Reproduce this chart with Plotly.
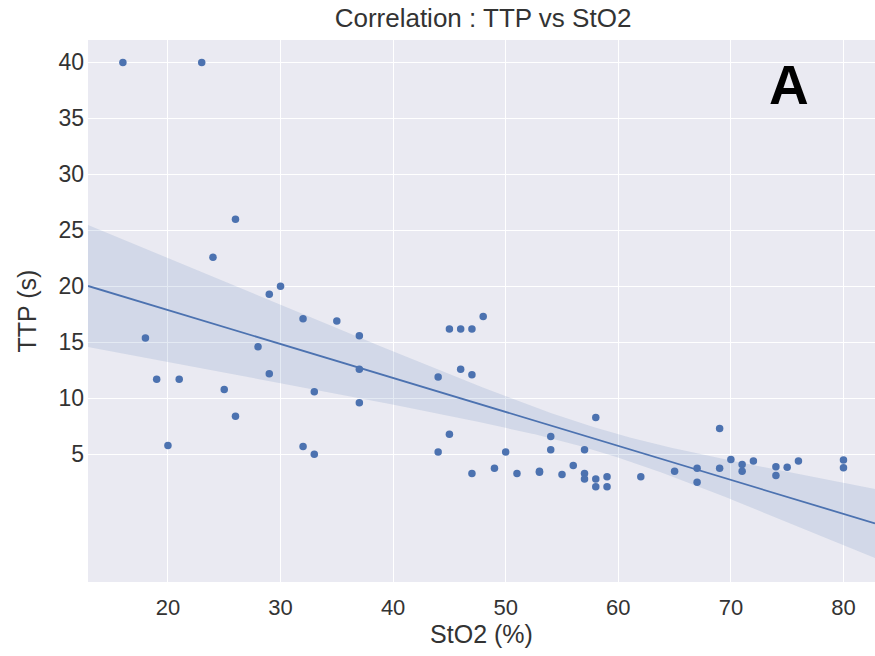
import numpy as np
import plotly.graph_objects as go

sto2 = [16, 23, 26, 24, 18, 19, 21, 20, 25, 26, 28, 29, 30, 29, 32, 32, 33, 33, 35, 37, 37, 37,
        48, 45, 46, 47, 44, 46, 47, 45, 44, 47, 49, 50, 51, 53, 53, 54, 54, 55, 56, 57, 57, 57,
        58, 58, 58, 59, 59, 62, 65, 67, 67, 69, 69, 70, 71, 71, 72, 74, 74, 75, 76, 80, 80]
ttp = [40, 40, 26, 22.6, 15.4, 11.7, 11.7, 5.8, 10.8, 8.4, 14.6, 19.3, 20, 12.2, 17.1, 5.7, 10.6, 5.0, 16.9, 15.6, 12.6, 9.6,
       17.3, 16.2, 16.2, 16.2, 11.9, 12.6, 12.1, 6.8, 5.2, 3.3, 3.75, 5.2, 3.3, 3.4, 3.5, 6.6, 5.4, 3.2, 4.0, 5.4, 3.3, 2.8,
       8.3, 2.8, 2.1, 3.0, 2.1, 3.0, 3.5, 3.75, 2.5, 7.3, 3.75, 4.55, 4.1, 3.5, 4.4, 3.9, 3.1, 3.85, 4.4, 4.5, 3.8]

x_range = [12.9, 82.8]
y_range = [-6.4, 42.0]
x_ticks = [20, 30, 40, 50, 60, 70, 80]
y_ticks = [5, 10, 15, 20, 25, 30, 35, 40]

# Linear fit with heteroscedasticity-robust (HC3) 95% confidence band
x = np.array(sto2, dtype=float)
y = np.array(ttp, dtype=float)
n = len(x)
X = np.column_stack([np.ones(n), x])
XtX_inv = np.linalg.inv(X.T @ X)
beta = XtX_inv @ X.T @ y
resid = y - X @ beta
h = np.einsum("ij,jk,ik->i", X, XtX_inv, X)
meat = X.T @ (X * (resid ** 2 / (1 - h) ** 2)[:, None])
cov = XtX_inv @ meat @ XtX_inv
xg = np.linspace(x_range[0], x_range[1], 200)
G = np.column_stack([np.ones_like(xg), xg])
yg = G @ beta
se = np.sqrt(np.einsum("ij,jk,ik->i", G, cov, G))
upper = yg + 1.998 * se
lower = yg - 1.998 * se

blue = "#4C72B0"
fnt = "Liberation Sans, Arial, sans-serif"
fig = go.Figure()
fig.add_trace(go.Scatter(x=np.concatenate([xg, xg[::-1]]), y=np.concatenate([upper, lower[::-1]]),
                         fill="toself", fillcolor="rgba(76,114,176,0.15)", line=dict(width=0),
                         mode="lines", hoverinfo="skip", showlegend=False))
fig.add_trace(go.Scatter(x=xg, y=yg, mode="lines", line=dict(color=blue, width=1.8), showlegend=False))
fig.add_trace(go.Scatter(x=sto2, y=ttp, mode="markers", marker=dict(color=blue, size=7.5), showlegend=False))

fig.add_annotation(x=0.891, y=0.917, xref="paper", yref="paper", text="<b>A</b>", showarrow=False,
                   xanchor="center", yanchor="middle",
                   font=dict(size=55, color="black", family=fnt))

fig.update_layout(
    width=875, height=656,
    margin=dict(l=88, r=0, t=40, b=74),
    paper_bgcolor="white", plot_bgcolor="#EAEAF2",
    font=dict(family=fnt, size=22, color="#333333"),
    title=dict(text="Correlation : TTP vs StO2", x=0.552, xanchor="center", y=0.973, yanchor="middle",
               font=dict(size=26, color="#333333")),
    xaxis=dict(range=x_range, tickvals=x_ticks, showgrid=True, gridcolor="white", gridwidth=1.2,
               zeroline=False, showline=False, ticks="outside", ticklen=6, tickcolor="rgba(0,0,0,0)",
               title=dict(text="StO2 (%)", standoff=0, font=dict(size=25)),
               tickfont=dict(size=22)),
    yaxis=dict(range=y_range, tickvals=y_ticks, showgrid=True, gridcolor="white", gridwidth=1.2,
               zeroline=False, showline=False, ticks="", ticklabelstandoff=3,
               title=dict(text="TTP (s)", standoff=14, font=dict(size=25)),
               tickfont=dict(size=23)),
)
fig.write_html("out.html")
